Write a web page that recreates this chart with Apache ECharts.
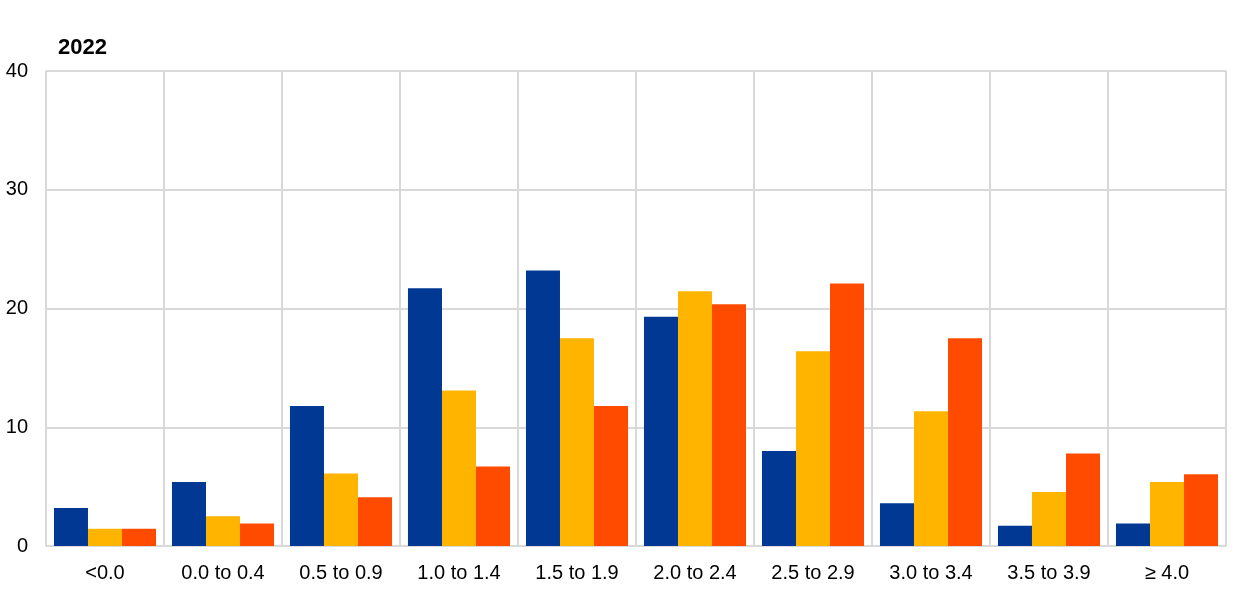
<!DOCTYPE html>
<html>
<head>
<meta charset="utf-8">
<script src="https://cdn.jsdelivr.net/npm/echarts@6/dist/echarts.min.js"></script>
<style>html,body{margin:0;padding:0;background:#fff;}#chart{width:1240px;height:591px;}</style>
</head>
<body>
<div id="chart"></div>
<script>
const categories = ['<0.0', '0.0 to 0.4', '0.5 to 0.9', '1.0 to 1.4', '1.5 to 1.9', '2.0 to 2.4', '2.5 to 2.9', '3.0 to 3.4', '3.5 to 3.9', '\u2265 4.0'];
const seriesBlue = [3.2, 5.4, 11.8, 21.7, 23.2, 19.3, 8.0, 3.6, 1.7, 1.9];
const seriesYellow = [1.45, 2.5, 6.1, 13.1, 17.5, 21.45, 16.4, 11.35, 4.55, 5.4];
const seriesRed = [1.45, 1.9, 4.1, 6.7, 11.8, 20.35, 22.1, 17.5, 7.8, 6.05];
const yTicks = [0, 10, 20, 30, 40];
const titleText = '2022';

const chart = echarts.init(document.getElementById('chart'), null, {renderer: 'canvas'});
const font = 'Liberation Sans, Arial, sans-serif';
const gridColor = '#d9d9d9';
function bar(name, data, color) {
  return {name, type: 'bar', data, barGap: '0%', barCategoryGap: '13.5%', itemStyle: {color}, animation: false};
}
chart.setOption({
  animation: false,
  title: {text: titleText, left: 53, top: 32, textStyle: {fontFamily: font, fontSize: 22, fontWeight: 'bold', color: '#000'}},
  grid: {left: 46, right: 14, top: 71, bottom: 45, containLabel: false},
  xAxis: {
    type: 'category', data: categories,
    axisLine: {show: true, lineStyle: {color: gridColor, width: 2}},
    axisTick: {show: false},
    axisLabel: {fontFamily: font, fontSize: 20, color: '#000', margin: 17},
    splitLine: {show: true, lineStyle: {color: gridColor, width: 2}}
  },
  yAxis: {
    type: 'value', min: yTicks[0], max: yTicks[yTicks.length - 1], interval: 10,
    axisLine: {show: false}, axisTick: {show: false},
    axisLabel: {fontFamily: font, fontSize: 20, color: '#000', margin: 18},
    splitLine: {show: true, lineStyle: {color: gridColor, width: 2}}
  },
  series: [
    bar('Blue', seriesBlue, '#003894'),
    bar('Yellow', seriesYellow, '#ffb400'),
    bar('Red', seriesRed, '#ff4b00')
  ]
});
</script>
</body>
</html>
